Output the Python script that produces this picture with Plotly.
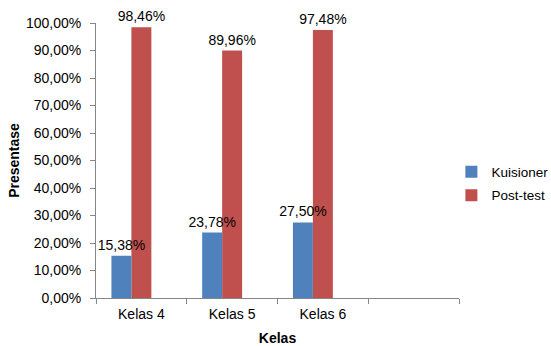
import plotly.graph_objects as go

categories = ["Kelas 4", "Kelas 5", "Kelas 6", " "]
kuisioner = [15.38, 23.78, 27.50]
post_test = [98.46, 89.96, 97.48]
kuisioner_labels = ["15,38%", "23,78%", "27,50%"]
post_test_labels = ["98,46%", "89,96%", "97,48%"]
y_ticks = [0, 10, 20, 30, 40, 50, 60, 70, 80, 90, 100]
y_ticktext = ["0,00%", "10,00%", "20,00%", "30,00%", "40,00%", "50,00%",
              "60,00%", "70,00%", "80,00%", "90,00%", "100,00%"]

BLUE = "#4F81BD"
RED = "#C0504D"
FONT = "Liberation Sans, Arial, sans-serif"
FS = 14

fig = go.Figure()
fig.add_trace(go.Bar(
    x=categories[:3], y=post_test, name="Post-test",
    marker=dict(color=RED, line=dict(width=0)),
    width=0.22, offset=-0.11,
    text=post_test_labels, textposition="outside", cliponaxis=False,
    constraintext="none",
    textfont=dict(family=FONT, size=FS, color="#000000"),
    legendgroup="b", legendrank=2,
))
fig.add_trace(go.Bar(
    x=categories[:3], y=kuisioner, name="Kuisioner",
    marker=dict(color=BLUE, line=dict(width=0)),
    width=0.22, offset=-0.33,
    text=kuisioner_labels, textposition="outside", cliponaxis=False,
    constraintext="none",
    textfont=dict(family=FONT, size=FS, color="#000000"),
    legendgroup="a", legendrank=1,
))

fig.update_layout(
    width=551, height=346,
    margin=dict(l=96, r=92, t=23, b=48, autoexpand=False),
    paper_bgcolor="white", plot_bgcolor="white",
    font=dict(family=FONT, size=FS, color="#000000"),
    barmode="overlay",
    showlegend=True,
    legend=dict(
        x=0.979, y=0.515, xanchor="left", yanchor="top",
        font=dict(family=FONT, size=13.5, color="#000000"),
        tracegroupgap=3, itemwidth=30,
        bgcolor="rgba(0,0,0,0)",
    ),
    xaxis=dict(
        type="category", categoryorder="array", categoryarray=categories,
        range=[-0.5, 3.5],
        showline=True, linecolor="#868686", linewidth=1,
        ticks="outside", ticklen=5, tickcolor="#868686", tickson="boundaries",
        showgrid=False, zeroline=False,
        tickfont=dict(family=FONT, size=FS, color="#000000"),
        ticklabelstandoff=3,
        title=dict(text="<b>Kelas</b>", font=dict(family=FONT, size=FS, color="#000000"), standoff=14),
        automargin=False,
    ),
    yaxis=dict(
        range=[0, 100],
        tickvals=y_ticks, ticktext=y_ticktext,
        showline=True, linecolor="#868686", linewidth=1,
        ticks="outside", ticklen=5, tickcolor="#868686",
        showgrid=False, zeroline=False,
        tickfont=dict(family=FONT, size=FS, color="#000000"),
        ticklabelstandoff=6,
        title=dict(text="<b>Presentase</b>", font=dict(family=FONT, size=FS, color="#000000"), standoff=3),
        automargin=False,
    ),
)

fig.write_html("out.html")
